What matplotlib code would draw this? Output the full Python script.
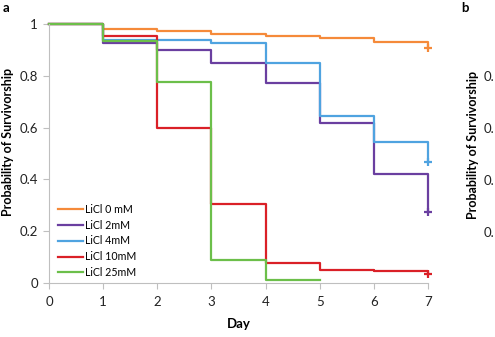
import matplotlib
matplotlib.use("Agg")
import matplotlib.pyplot as plt

days = [0, 1, 2, 3, 4, 5, 6, 7]
labels = ["LiCl 0 mM", "LiCl 2mM", "LiCl 4mM", "LiCl 10mM", "LiCl 25mM"]
surv_0 = [1.0, 0.980, 0.972, 0.961, 0.954, 0.946, 0.929, 0.906]
surv_2 = [1.0, 0.926, 0.900, 0.851, 0.771, 0.619, 0.421, 0.274]
surv_4 = [1.0, 0.940, 0.940, 0.927, 0.849, 0.643, 0.545, 0.469]
surv_10 = [1.0, 0.954, 0.600, 0.305, 0.077, 0.052, 0.045, 0.036]
surv_25 = [1.0, 0.934, 0.776, 0.090, 0.010, 0.010]
colors = ["#F58A3A", "#6A3FA0", "#4FA3E0", "#DA2027", "#6CBF4A"]
censor = [True, True, True, True, False]
panel_b_ticks = ["0.", "0.", "0.", "0."]

plt.rcParams['font.family'] = ['Lato', 'DejaVu Sans']
fig = plt.figure(figsize=(4.95, 3.37), dpi=100)
ax = fig.add_axes([49/495, 1-283/337, 379/495, 259/337])

series = [surv_0, surv_2, surv_4, surv_10, surv_25]
for lab, s, c, cen in zip(labels, series, colors, censor):
    x = days[:len(s)]
    ax.step(x, s, where='post', color=c, lw=1.6, label=lab, clip_on=False)
    if cen:
        ax.plot([x[-1]], [s[-1]], marker='+', ms=6, mew=1.6, color=c, clip_on=False, ls='none')

ax.set_xlim(0, 7)
ax.set_ylim(0, 1)
ax.set_xticks(range(8))
ax.set_yticks([0, 0.2, 0.4, 0.6, 0.8, 1])
ax.set_yticklabels(["0", "0.2", "0.4", "0.6", "0.8", "1"])
for sp in ["top", "right"]:
    ax.spines[sp].set_visible(False)
for sp in ["left", "bottom"]:
    ax.spines[sp].set_color("#BFBFBF")
    ax.spines[sp].set_linewidth(0.8)
ax.tick_params(axis='both', colors="#BFBFBF", labelcolor="#222222", labelsize=9.5, length=4, width=0.8)
ax.tick_params(axis='x', pad=5)
ax.tick_params(axis='y', pad=4)
ax.set_xlabel("Day", fontsize=9.5, fontweight='bold')
ax.xaxis.set_label_coords(0.5, -35/259)
ax.set_ylabel("Probability of Survivorship", fontsize=9, fontweight='bold')
ax.yaxis.set_label_coords(-35/379, (283-142)/259)

leg = ax.legend(loc='lower left', bbox_to_anchor=(0.005, -0.01), frameon=False, fontsize=7.7,
                handlelength=2.3, handletextpad=0.15, labelspacing=0.45, borderpad=0.2)

fig.text(3/495, 1-8/337, "a", fontsize=9.5, fontweight='bold', va='center', ha='left')
fig.text(465/495, 1-8/337, "b", fontsize=9.5, fontweight='bold', va='center', ha='center')
fig.text(473/495, 1-145/337, "Probability of Survivorship", fontsize=9, fontweight='bold',
         rotation=90, va='center', ha='center')
for yy, t in zip([77, 129, 181, 233], panel_b_ticks):
    fig.text(484/495, 1-yy/337, t, fontsize=9.5, color="#222222", va='center', ha='left')

fig.savefig("out.png", dpi=100)
